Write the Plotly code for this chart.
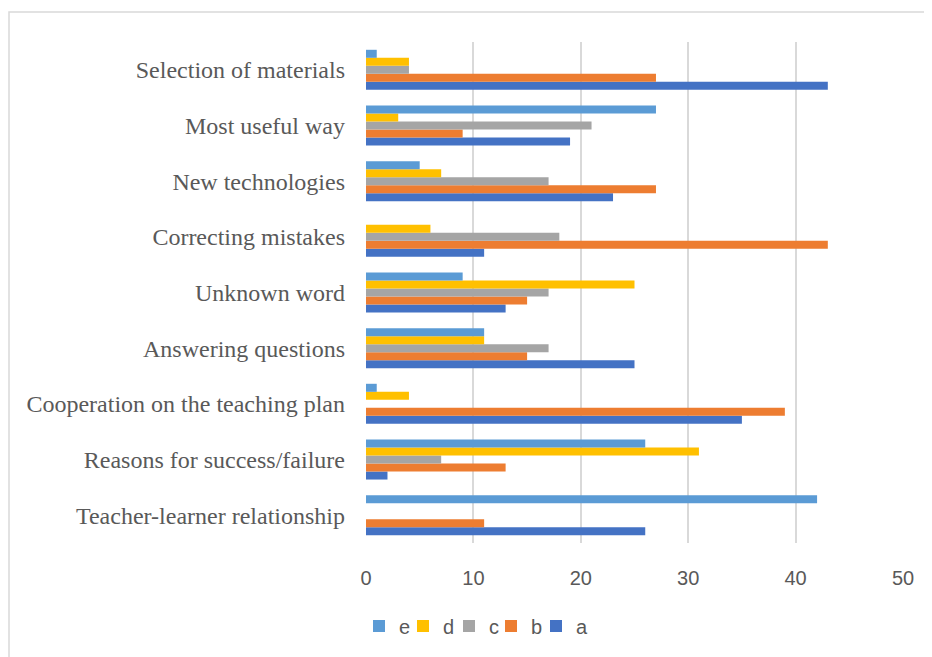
import plotly.graph_objects as go

categories = ["Teacher-learner relationship", "Reasons for success/failure",
              "Cooperation on the teaching plan", "Answering questions",
              "Unknown word", "Correcting mistakes", "New technologies",
              "Most useful way", "Selection of materials"]
a = [26, 2, 35, 25, 13, 11, 23, 19, 43]
b = [11, 13, 39, 15, 15, 43, 27, 9, 27]
c = [0, 7, 0, 17, 17, 18, 17, 21, 4]
d = [0, 31, 4, 11, 25, 6, 7, 3, 4]
e = [42, 26, 1, 11, 9, 0, 5, 27, 1]
series_names = ["a", "b", "c", "d", "e"]
series_values = [a, b, c, d, e]
colors = ["#4472C4", "#ED7D31", "#A5A5A5", "#FFC000", "#5B9BD5"]
x_ticks = [0, 10, 20, 30, 40, 50]

# page body margin of the browser (8px) -> work in screen coords, subtract OFF
OFF = 8
W, H = 932 - OFF, 657 - OFF
L, R, T, B = 366 - OFF, 932 - 903, 42 - OFF, 657 - 543
pw, ph = W - L - R, H - T - B

def px(xs):
    return (xs - OFF - L) / pw

def py(ys):
    return (H - B - (ys - OFF)) / ph

# screen x of legend symbol centres (e, d, c, b, a)
legend_sym_x = {"e": 380, "d": 424, "c": 470, "b": 512, "a": 557}
legend_names = {"a": "legend5", "b": "legend4", "c": "legend3", "d": "legend2", "e": "legend"}

fig = go.Figure()
for name, vals, col in zip(series_names, series_values, colors):
    fig.add_trace(go.Bar(y=categories, x=vals, name=name, orientation="h",
                         legend=legend_names[name],
                         marker=dict(color=col, line=dict(width=0))))

leg_font = dict(family="Liberation Sans, Arial", size=20, color="#595959")
legend_layout = {}
for name, lname in legend_names.items():
    legend_layout[lname] = dict(
        orientation="h", x=px(legend_sym_x[name] - 21), xanchor="left",
        y=py(626), yanchor="middle", font=leg_font,
        bgcolor="rgba(0,0,0,0)", itemwidth=30)

fig.update_layout(
    width=W, height=H,
    margin=dict(l=L, r=R, t=T, b=B),
    paper_bgcolor="white", plot_bgcolor="white",
    barmode="group", bargap=0.28, bargroupgap=0,
    showlegend=True,
    xaxis=dict(range=[0, 50], tickvals=x_ticks, showgrid=True,
               gridcolor="#D9D9D9", gridwidth=1.5, zeroline=False,
               showline=False, ticks="",
               tickfont=dict(family="Liberation Sans, Arial", size=20, color="#595959"),
               ticklabelstandoff=21, fixedrange=True),
    yaxis=dict(categoryorder="array", categoryarray=categories,
               showgrid=False, zeroline=False, showline=False, ticks="",
               tickfont=dict(family="Liberation Serif, Times New Roman", size=24, color="#595959"),
               ticklabelstandoff=20, fixedrange=True),
    shapes=[dict(type="rect", xref="paper", yref="paper",
                 x0=px(9), x1=px(945), y0=py(670), y1=py(12),
                 line=dict(color="#D9D9D9", width=1.5), fillcolor="rgba(0,0,0,0)",
                 layer="below")],
    **legend_layout,
)

fig.write_html("out.html")
